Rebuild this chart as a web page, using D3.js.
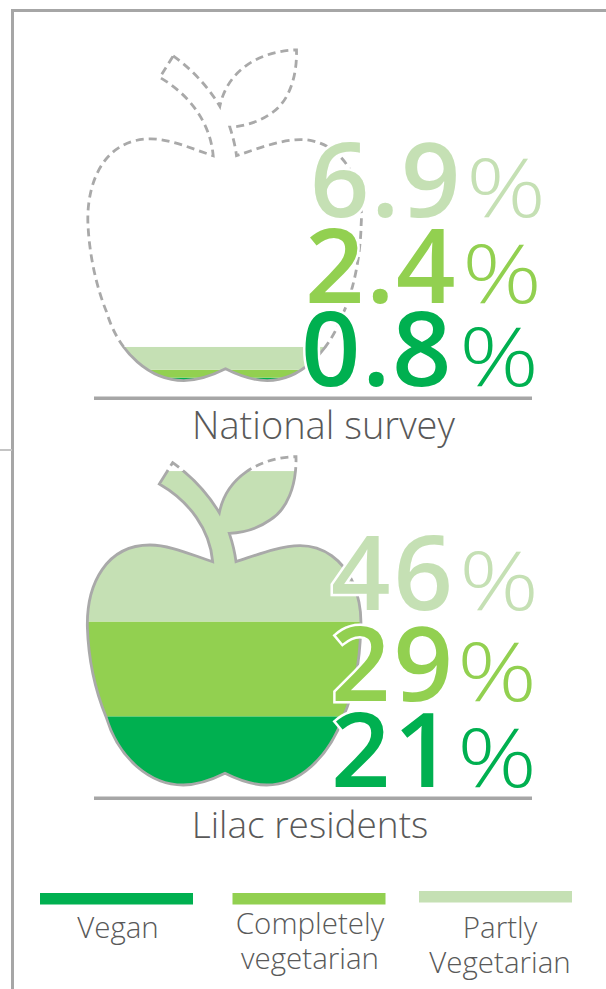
<!DOCTYPE html>
<html>
<head>
<meta charset="utf-8">
<script src="https://cdn.jsdelivr.net/npm/d3@7/dist/d3.min.js"></script>
<style>
html,body{margin:0;padding:0;background:#fff;}
svg{display:block;}
</style>
</head>
<body>
<svg id="chart" width="606" height="989"></svg>
<script>
// Diet categories, drawn from the bottom of each apple upward
const categories = ["Vegan", "Completely vegetarian", "Partly Vegetarian"];
const categoryColors = ["#00b050", "#92d050", "#c5e0b4"];
const nationalValues = [0.8, 2.4, 6.9];
const lilacValues = [21, 29, 46];
const groupNames = ["National survey", "Lilac residents"];
const legendLines = [["Vegan"], ["Completely", "vegetarian"], ["Partly", "Vegetarian"]];

const FONT = "'Open Sans', sans-serif";
const GREY = "#a6a6a6";
const TEXT = "#595959";

// Apple silhouette with stem and leaf, in its own drawing units
const APPLE = "M308,38 C360,75 410,125 448,188 C470,80 570,22 678,20 C680,110 650,180 600,210 " +
  "C565,235 520,248 478,250 C488,280 495,310 498,335 C560,315 630,287 690,287 " +
  "C760,287 820,330 850,400 C870,450 875,500 872,540 C870,620 855,720 820,800 " +
  "C775,925 685,1005 590,1005 C545,1005 505,990 465,970 C425,990 385,1005 340,1005 " +
  "C240,1005 145,925 108,800 C75,720 55,620 52,530 C50,400 110,285 240,285 " +
  "C300,285 365,315 428,335 C420,240 360,155 268,102 Z";

const svg = d3.select("#chart");
const defs = svg.append("defs");

// Frame
const frame = svg.append("g").attr("fill", GREY);
frame.append("rect").attr("x", 11).attr("y", 9).attr("width", 3).attr("height", 980);
frame.append("rect").attr("x", 11).attr("y", 9).attr("width", 595).attr("height", 3);
frame.append("rect").attr("x", 0).attr("y", 449).attr("width", 12).attr("height", 2).attr("fill", "#c4c4c4");

function drawApple(cfg) {
  const id = cfg.id;
  const y = d3.scaleLinear().domain([0, 100]).range([cfg.bottom, cfg.top]);
  const g = svg.append("g");
  const xf = `translate(${cfg.dx},${cfg.dy}) scale(${1 / 3},${cfg.sy})`;

  defs.append("clipPath").attr("id", id + "-shape")
    .append("path").attr("d", APPLE).attr("transform", xf);

  // Cumulative stacks give the height of each band
  let sum = 0;
  const stack = cfg.values.map((v, i) => {
    const d = { i, v, y0: sum, y1: sum + v };
    sum += v;
    return d;
  });

  g.append("g").attr("clip-path", `url(#${id}-shape)`)
    .selectAll("rect").data(stack).join("rect")
    .attr("x", 70).attr("width", 300)
    .attr("y", d => y(d.y1))
    .attr("height", d => y(d.y0) - y(d.y1))
    .attr("fill", d => categoryColors[d.i]);

  // Outline: dashed above the fill level, solid alongside it
  defs.append("clipPath").attr("id", id + "-filled")
    .append("rect").attr("x", 60).attr("width", 320)
    .attr("y", y(sum)).attr("height", y(0) - y(sum) + 6);
  defs.append("clipPath").attr("id", id + "-empty")
    .append("rect").attr("x", 60).attr("width", 320)
    .attr("y", y(100) - 10).attr("height", y(sum) - y(100) + 10);

  const outline = (clip, dash, colour) => g.append("g").attr("clip-path", `url(#${clip})`)
    .append("path").attr("d", APPLE).attr("transform", xf)
    .attr("fill", "none").attr("stroke", colour).attr("stroke-width", 2.8)
    .attr("vector-effect", "non-scaling-stroke")
    .attr("stroke-dasharray", dash);
  outline(id + "-empty", "8 5", "#a9a9a9");
  outline(id + "-filled", null, "#a9a9a9");

  // Baseline rule
  g.append("rect").attr("x", 94).attr("width", 438)
    .attr("y", cfg.rule).attr("height", 3.5).attr("fill", GREY);

  // Value labels: heavy number with white halo, light percent sign
  const rows = g.selectAll("g.row").data(stack).join("g").attr("class", "row");
  rows.append("text")
    .attr("x", d => cfg.numX[d.i]).attr("y", d => cfg.base[d.i])
    .attr("font-family", FONT).attr("font-weight", 600).attr("font-size", 104)
    .attr("letter-spacing", cfg.spacing)
    .attr("fill", d => categoryColors[d.i])
    .attr("stroke", "#fff").attr("stroke-width", 5).attr("paint-order", "stroke")
    .text(d => d.v);
  rows.append("text")
    .attr("x", d => cfg.pctX[d.i]).attr("y", d => cfg.base[d.i])
    .attr("font-family", FONT).attr("font-weight", 300).attr("font-size", 82)
    .attr("textLength", 80).attr("lengthAdjust", "spacingAndGlyphs")
    .attr("fill", d => categoryColors[d.i])
    .text("%");

  // Group name
  g.append("text").attr("x", cfg.nameX).attr("y", cfg.nameY)
    .attr("font-family", FONT).attr("font-weight", 300).attr("font-size", cfg.nameSize)
    .attr("fill", TEXT).attr("text-anchor", "middle")
    .text(cfg.name);
}

drawApple({
  id: "national", values: nationalValues, name: groupNames[0],
  dx: 70.5, dy: 43.2, sy: 0.3357, bottom: 380.3, top: 50.3, rule: 396.5,
  numX: [301, 305, 310], pctX: [459, 462, 466], base: [386, 303, 217],
  spacing: 1.5, nameX: 323.5, nameY: 439, nameSize: 38
});
drawApple({
  id: "lilac", values: lilacValues, name: groupNames[1],
  dx: 70, dy: 450, sy: 1 / 3, bottom: 785, top: 458, rule: 796.5,
  numX: [331, 331, 331], pctX: [457, 457, 459], base: [787, 701, 610],
  spacing: 3, nameX: 310, nameY: 838, nameSize: 37
});

// Legend
const legendCentres = [116.5, 309, 495.5];
const legendTextX = [118, 310, 500];
const legendBarY = [893, 893, 891];
const legendFirstLine = [938, 934, 938];
const legend = svg.append("g").selectAll("g").data(categories).join("g");
legend.append("rect")
  .attr("x", (d, i) => legendCentres[i] - 76.5).attr("width", 153)
  .attr("y", (d, i) => legendBarY[i]).attr("height", 11.5)
  .attr("fill", (d, i) => categoryColors[i]);
legend.each(function (d, i) {
  d3.select(this).selectAll("text").data(legendLines[i]).join("text")
    .attr("x", legendTextX[i])
    .attr("y", (t, k) => legendFirstLine[i] + k * 35)
    .attr("text-anchor", "middle")
    .attr("font-family", FONT).attr("font-weight", 300).attr("font-size", 29.5)
    .attr("fill", TEXT)
    .text(t => t);
});
</script>
</body>
</html>
